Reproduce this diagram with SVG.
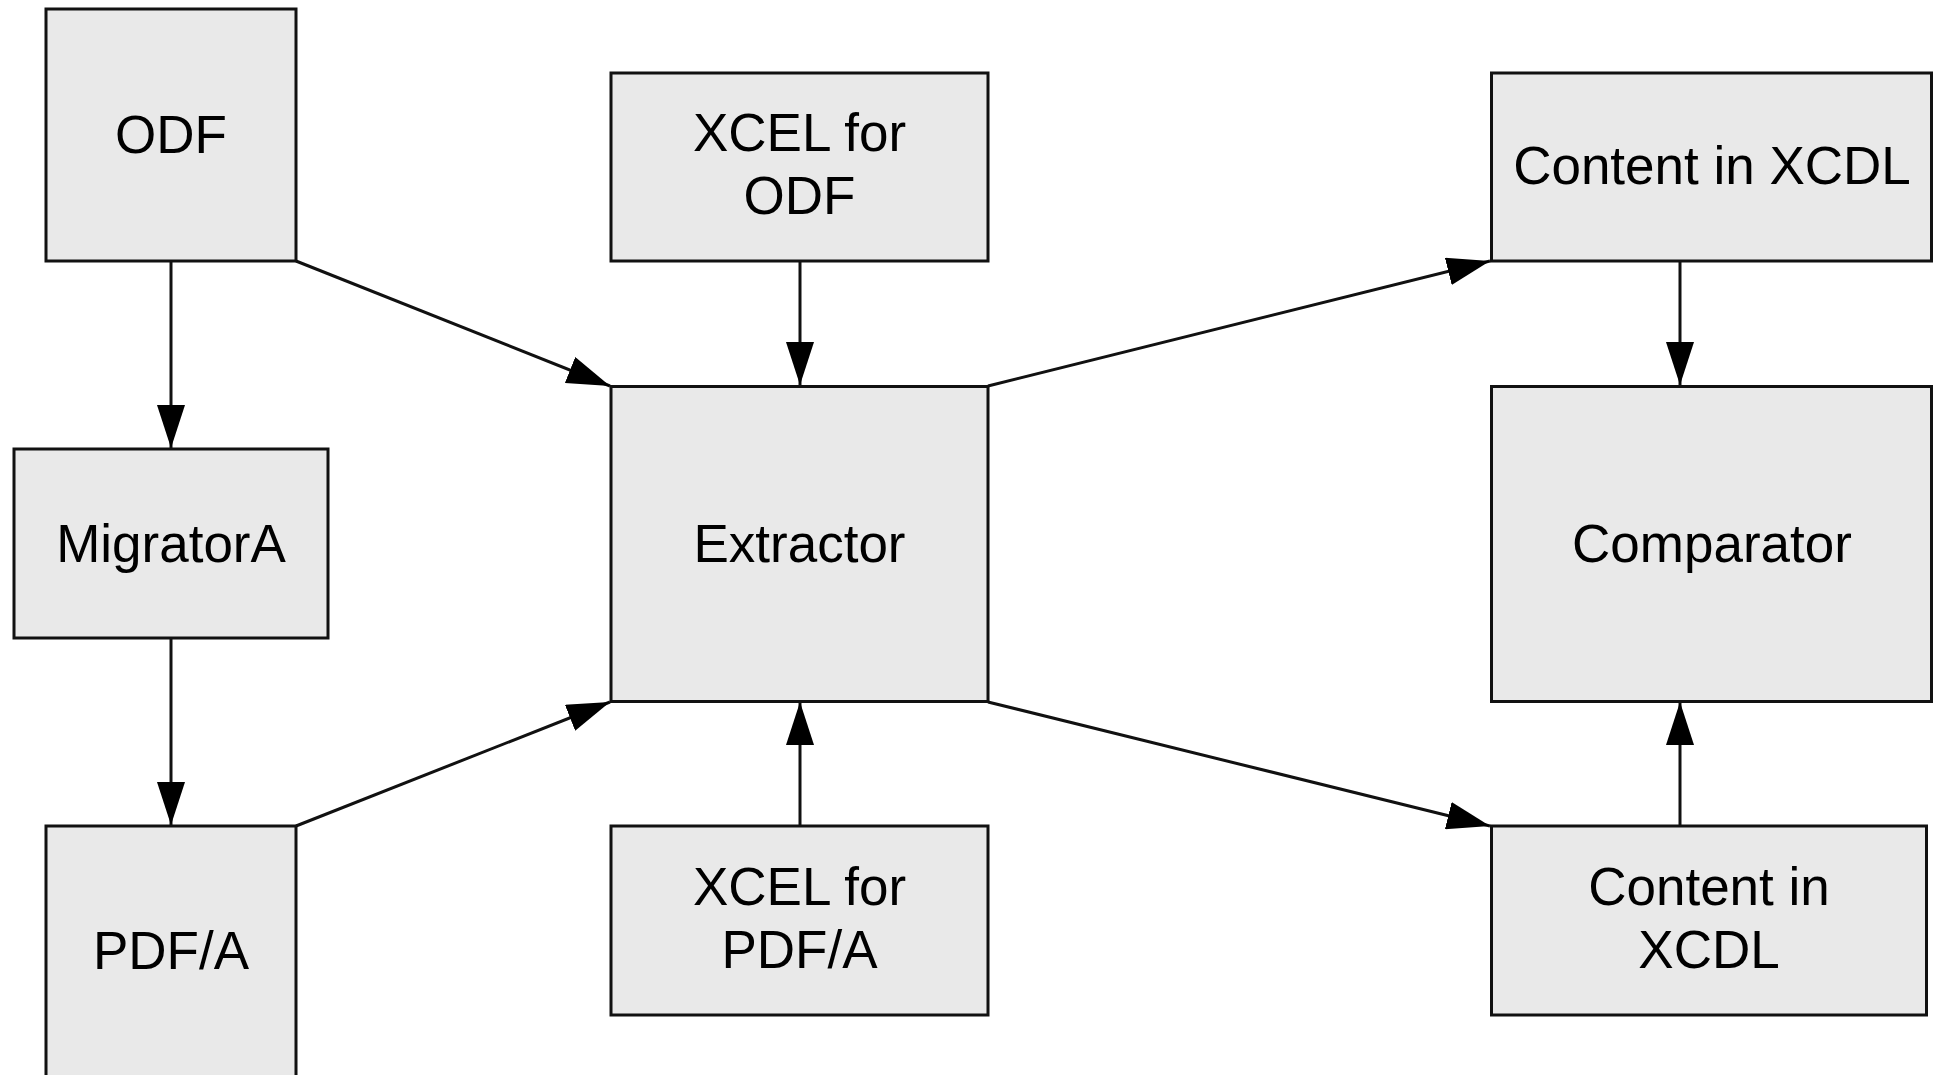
<svg xmlns="http://www.w3.org/2000/svg" width="1936" height="1075" viewBox="0 0 1936 1075">
  <style>
    .box { fill: #e9e9e9; stroke: #111; stroke-width: 3; }
    .lbl { font-family: "Liberation Sans", Arial, sans-serif; font-size: 53px; fill: #000; text-anchor: middle; }
    .edge { fill: none; stroke: #111; stroke-width: 3; marker-end: url(#arrow); }
  </style>
  <defs>
    <marker id="arrow" markerUnits="userSpaceOnUse" markerWidth="43" markerHeight="28" refX="43" refY="14" orient="auto">
      <path d="M0,0 L43,14 L0,28 Z" fill="#000"/>
    </marker>
  </defs>
  <rect width="1936" height="1075" fill="#fff"/>

  <g id="connectors">
    <line class="edge" x1="171" y1="261" x2="171" y2="448"/>
    <line class="edge" x1="171" y1="638" x2="171" y2="825"/>
    <line class="edge" x1="296" y1="261" x2="610" y2="386"/>
    <line class="edge" x1="296" y1="826" x2="610" y2="702"/>
    <line class="edge" x1="800" y1="261" x2="800" y2="385"/>
    <line class="edge" x1="800" y1="826" x2="800" y2="702"/>
    <line class="edge" x1="988" y1="386" x2="1490" y2="261"/>
    <line class="edge" x1="988" y1="702" x2="1490" y2="826"/>
    <line class="edge" x1="1680" y1="261" x2="1680" y2="385"/>
    <line class="edge" x1="1680" y1="826" x2="1680" y2="702"/>
  </g>

  <g id="odf">
    <rect class="box" x="46" y="9" width="250" height="252"/>
    <text class="lbl" x="171" y="153">ODF</text>
  </g>
  <g id="xcel-odf">
    <rect class="box" x="611" y="73" width="377" height="188"/>
    <text class="lbl" x="799.5" y="151">XCEL for</text>
    <text class="lbl" x="799.5" y="214">ODF</text>
  </g>
  <g id="content-xcdl-1">
    <rect class="box" x="1491.5" y="73" width="440" height="188"/>
    <text class="lbl" x="1712" y="184">Content in XCDL</text>
  </g>
  <g id="migrator-a">
    <rect class="box" x="14" y="449" width="314" height="189"/>
    <text class="lbl" x="171" y="562">MigratorA</text>
  </g>
  <g id="extractor">
    <rect class="box" x="611" y="386.5" width="377" height="315"/>
    <text class="lbl" x="799.5" y="562">Extractor</text>
  </g>
  <g id="comparator">
    <rect class="box" x="1491.5" y="386.5" width="440" height="315"/>
    <text class="lbl" x="1712" y="562">Comparator</text>
  </g>
  <g id="pdf-a">
    <rect class="box" x="46" y="826" width="250" height="254"/>
    <text class="lbl" x="171" y="969">PDF/A</text>
  </g>
  <g id="xcel-pdfa">
    <rect class="box" x="611" y="826" width="377" height="189"/>
    <text class="lbl" x="799.5" y="905">XCEL for</text>
    <text class="lbl" x="799.5" y="968">PDF/A</text>
  </g>
  <g id="content-xcdl-2">
    <rect class="box" x="1491.5" y="826" width="435" height="189"/>
    <text class="lbl" x="1709" y="905">Content in</text>
    <text class="lbl" x="1709" y="968">XCDL</text>
  </g>
</svg>
